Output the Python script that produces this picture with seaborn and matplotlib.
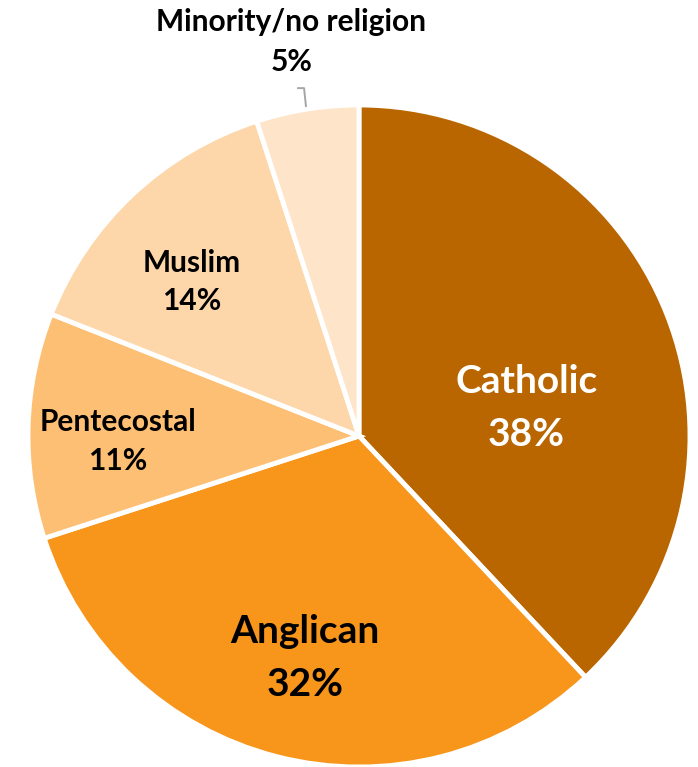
import matplotlib
matplotlib.use("Agg")
import matplotlib.pyplot as plt
import seaborn as sns

categories = ["Catholic", "Anglican", "Pentecostal", "Muslim", "Minority/no religion"]
shares = [38, 32, 11, 14, 5]
colors = ["#B96500", "#F8951B", "#FDBF73", "#FDD6A9", "#FEE4C9"]

sns.set_theme(style="white")
plt.rcParams["font.family"] = ["Lato", "DejaVu Sans"]

fig = plt.figure(figsize=(6.98, 7.67), dpi=100)
ax = fig.add_axes([0, 0, 1, 1])
ax.set_aspect("equal")
ax.axis("off")

wedges, _ = ax.pie(
    shares,
    colors=colors,
    startangle=90,
    counterclock=False,
    radius=1.0,
    wedgeprops=dict(edgecolor="white", linewidth=3.5),
)

# label placement (data units, pie radius = 1)
label_pos = [(0.505, 0.085), (-0.163, -0.671), (-0.728, -0.018), (-0.505, 0.465), (-0.205, 1.19)]
label_size = [28, 28, 21.5, 21.5, 21.5]
label_spacing = [1.62, 1.62, 1.48, 1.45, 1.5]
label_color = ["white", "black", "black", "black", "black"]

for name, val, (x, y), fs, ls, c in zip(categories, shares, label_pos, label_size,
                                         label_spacing, label_color):
    ax.text(x, y, f"{name}\n{val}%", ha="center", va="center", fontsize=fs,
            fontweight="bold", color=c, linespacing=ls)

# leader line for the small slice
ax.plot([-0.187, -0.166, -0.160], [1.051, 1.051, 0.994], color="#A6A6A6", lw=1.4,
        solid_capstyle="butt")

ax.set_xlim(-359 / 331, 339 / 331)
ax.set_ylim(-331 / 331, 436 / 331)

fig.savefig("out.png", dpi=100, facecolor="white")
